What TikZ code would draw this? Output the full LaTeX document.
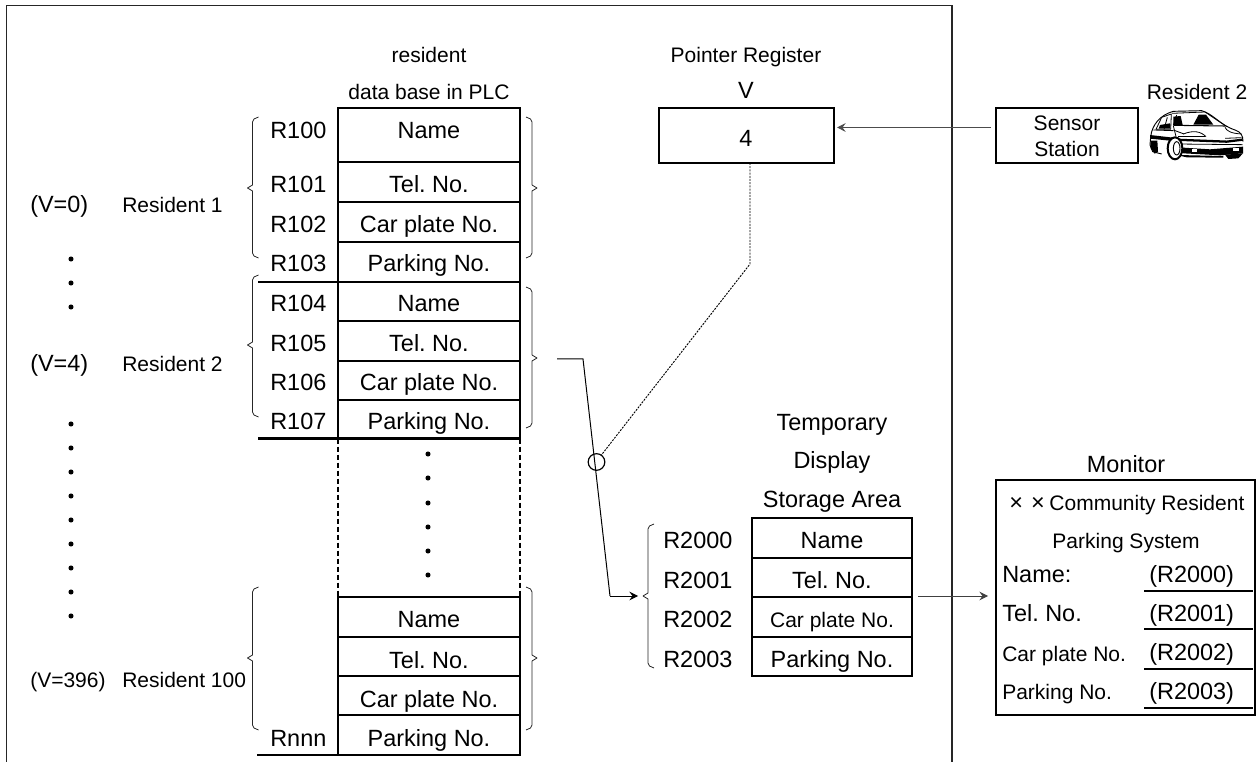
\documentclass[tikz,border=0pt]{standalone}
\usepackage{fontspec}
\setmainfont{Liberation Sans}
\usetikzlibrary{arrows.meta}
\frenchspacing
\newcommand{\cellb}[5]{%
  \pgfmathsetmacro{\cw}{(#4-#2)*0.75}\pgfmathsetmacro{\ch}{(#5-#3)*0.75}%
  \node[cellbox,minimum width=\cw pt,minimum height=\ch pt] (#1) at ({(#2+#4)/2},{(#3+#5)/2}) {};}
\newcommand{\bracket}[5]{% spine x, dir (+1 opens right), top, mid, bottom
  \draw[bracestyle] ({#1+6*#2},#3) -- ({#1+1.5*#2},{#3+2}) -- (#1,{#3+5}) -- (#1,{#4-3}) -- ({#1-5*#2},#4)
    -- (#1,{#4+3}) -- (#1,{#5-5}) -- ({#1+1.5*#2},{#5-2}) -- ({#1+6*#2},#5);}
\tikzset{
  cellbox/.style={draw=black,line width=1.5pt,inner sep=0pt,outer sep=0pt},
  bracestyle/.style={draw=black!85,line width=0.6pt,line join=round},
  big/.style={font=\fontsize{17.6}{20}\selectfont,inner sep=0pt,anchor=base},
  sml/.style={font=\fontsize{15.75}{18}\selectfont,inner sep=0pt,anchor=base},
  bigl/.style={big,anchor=base west},
  smll/.style={sml,anchor=base west},
  dotmark/.style={circle,fill=black,inner sep=0pt,minimum size=3.8pt},
  rule/.style={draw=black,line width=1.5pt},
  wire/.style={draw=black,line width=0.75pt},
  tip/.style={-{Stealth[length=6.5pt,width=6.5pt,inset=2.4pt]}},
  dotline/.style={draw=black,line width=0.7pt,dash pattern=on 1.5pt off 0.9pt},
  datadash/.style={draw=black,line width=2pt,dash pattern=on 3.8pt off 2.2pt}
}
\begin{document}
\begin{tikzpicture}[x=0.75pt,y=-0.75pt]
\useasboundingbox (0,0) rectangle (1259,762);
% frame
\coordinate (fa) at (6.5,762); \coordinate (fb) at (6.5,5.5);
\coordinate (fc) at (952,5.5); \coordinate (fd) at (952,762);
\draw[draw=black!85,line width=1pt] (fa) -- (fb) -- (fc) -- (fd);
% database
\node[sml] (t1) at (429,62.5) {resident};
\node[sml] (t2) at (429,100) {data base in PLC};
\cellb{a1}{338}{108}{520}{162.5}
\cellb{a2}{338}{162.5}{520}{202}
\cellb{a3}{338}{202}{520}{242}
\cellb{a4}{338}{242}{520}{282}
\cellb{b1}{338}{282}{520}{321}
\cellb{b2}{338}{321}{520}{361}
\cellb{b3}{338}{361}{520}{400}
\cellb{b4}{338}{400}{520}{438.5}
\cellb{c1}{338}{597}{520}{637}
\cellb{c2}{338}{637}{520}{676}
\cellb{c3}{338}{676}{520}{715}
\cellb{c4}{338}{715}{520}{755}
\foreach \n/\y/\tx in {a1/139/Name,a2/193/Tel. No.,a3/233/Car plate No.,a4/272/Parking No.,
  b1/312/Name,b2/352/Tel. No.,b3/391/Car plate No.,b4/430/Parking No.,
  c1/627/Name,c2/668/Tel. No.,c3/707/Car plate No.,c4/746/Parking No.}
  {\node[big] (x\n) at (429,\y) {\tx};}
\foreach \n/\y/\tx in {r0/139/R100,r1/193/R101,r2/233/R102,r3/272/R103,r4/312/R104,r5/352/R105,r6/391/R106,r7/430/R107,rn/746/Rnnn}
  {\node[bigl] (\n) at (270,\y) {\tx};}
\coordinate (l1) at (258,282); \coordinate (l2) at (258,438.5); \coordinate (l3) at (257,755);
\draw[rule] (l1) -- (b1.north west);
\draw[rule] (l2) -- (b4.south west);
\draw[rule] (l3) -- (c4.south west);
\draw[datadash] (b4.south west) -- (c1.north west);
\draw[datadash] (b4.south east) -- (c1.north east);
\foreach \y [count=\i] in {454,478,503,527,551,575} {\node[dotmark] (dm\i) at (428,\y) {};}
% braces
\bracket{252.5}{1}{117}{188}{258}
\bracket{252.5}{1}{275}{345}{417}
\bracket{252.5}{1}{587}{658}{730}
\bracket{532}{-1}{117}{188}{258}
\bracket{532}{-1}{287}{358}{428}
\bracket{532}{-1}{587}{658}{730}
\bracket{648}{1}{524}{596}{668}
% left labels
\node[bigl] (v0) at (30,213) {(V=0)};
\node[smll] (n1) at (122,213) {Resident 1};
\node[bigl] (v4) at (30,372) {(V=4)};
\node[smll] (n2) at (122,372) {Resident 2};
\node[smll] (v396) at (30,687) {(V=396)};
\node[smll] (n3) at (122,687) {Resident 100};
\foreach \y [count=\i] in {259,283,307,424,448,472,496,520,544,568,592,616} {\node[dotmark] (dd\i) at (71,\y) {};}
% pointer register
\node[sml] (pr) at (746,62.5) {Pointer Register};
\node[big] (pv) at (746,99) {V};
\cellb{ptr}{659}{108}{834}{163}
\node[big] (pn) at (746,147) {4};
% sensor
\cellb{sens}{996}{108}{1138}{163}
\node[sml] (s1) at (1067,131) {Sensor};
\node[sml] (s2) at (1067,157) {Station};
\node[sml] (res2) at (1197,100) {Resident 2};
\coordinate (sf) at (991,127.5); \coordinate (pf) at (837,127.5);
\draw[wire,draw=black!70,tip] (sf) -- (pf);
% car
\begin{scope}[shift={(960,70)},x=0.25pt,y=-0.25pt,line join=round]
  % body outline
  \draw[line width=0.7pt] (572,200) .. controls (576,165) and (600,135) .. (640,124) -- (725,122) .. controls (760,132) and (780,165) .. (825,180) .. controls (842,186) and (849,195) .. (849,215);
  \draw[line width=0.7pt] (572,200) -- (570,225) -- (578,245) -- (605,252);
  % roof double line, windscreen
  \draw[line width=0.6pt] (636,130) -- (735,126) -- (800,170);
  \fill (640,140) -- (662,138) -- (668,165) -- (640,165) -- cycle;
  \fill (700,164) -- (716,134) -- (738,134) -- (760,164) -- cycle;
  \draw[line width=0.8pt] (640,166) -- (795,168);
  \draw[line width=0.6pt] (650,135) -- (640,165);
  % side windows
  \draw[line width=0.6pt] (588,178) -- (605,142) -- (634,132) -- (632,178) -- cycle;
  \draw[line width=0.6pt] (612,178) -- (622,142);
  \fill (600,165) -- (630,160) -- (630,176) -- (596,176) -- cycle;
  % bonnet lines
  \draw[line width=0.6pt] (670,192) .. controls (700,180) and (722,184) .. (738,200);
  \draw[line width=0.6pt] (640,180) -- (672,192);
  \draw[line width=0.6pt] (795,172) .. controls (800,182) and (810,190) .. (845,192);
  \draw[line width=0.6pt] (640,168) -- (648,200);
  % headlamp rims
  \draw[line width=0.6pt] (655,200) -- (735,200);
  \draw[line width=0.6pt] (795,205) -- (845,203);
  % waist and door
  \fill (570,195) -- (640,203) -- (640,213) -- (570,206) -- cycle;
  \draw[line width=0.6pt] (580,180) -- (640,182);
  % bumper bands
  \draw[line width=1.7pt] (645,209) -- (800,215) -- (848,209);
  \draw[line width=0.6pt] (650,222) -- (848,224);
  \fill (655,232) -- (750,238) -- (849,230) -- (849,250) -- (780,256) -- (670,250) -- cycle;
  \fill[white] (695,238) rectangle (712,246);
  \fill[white] (820,235) rectangle (838,243);
  \fill (650,255) -- (790,258) -- (790,263) -- (680,262) -- cycle;
  \fill (795,254) -- (849,250) -- (835,265) -- (805,267) -- cycle;
  % wheels
  \draw[line width=1.5pt,fill=white] (645,235) ellipse (22 and 33);
  \draw[line width=0.7pt] (650,235) ellipse (10 and 20);
  \fill (572,212) -- (592,212) -- (594,245) -- (584,251) -- (572,235) -- cycle;
\end{scope}
% selector wire
\coordinate (w0) at (557,359); \coordinate (w1) at (583,359);
\coordinate (w2) at (610,596); \coordinate (w3) at (638,596);
\coordinate (q1) at (750,264);
\node[circle,draw=black,line width=0.9pt,inner sep=0pt,minimum size=12.5pt,outer sep=0pt] (sw) at (596.5,462) {};
\draw[wire] (w0) -- (w1) -- (w2);
\draw[wire,tip] (w2) -- (w3);
\draw[dotline] (ptr.south -| q1) -- (q1) -- (sw.55);
% temporary storage
\node[big] (h1) at (832,431) {Temporary};
\node[big] (h2) at (832,469) {Display};
\node[big] (h3) at (832,507) {Storage Area};
\cellb{d1}{752}{518}{912}{558}
\cellb{d2}{752}{558}{912}{597}
\cellb{d3}{752}{597}{912}{636.5}
\cellb{d4}{752}{636.5}{912}{676}
\node[big] (xd1) at (832,548) {Name};
\node[big] (xd2) at (832,588) {Tel. No.};
\node[sml] (xd3) at (832,627) {Car plate No.};
\node[big] (xd4) at (832,667) {Parking No.};
\foreach \n/\y/\tx in {q0/548/R2000,q1t/588/R2001,q2/627/R2002,q3/667/R2003}
  {\node[bigl] (\n) at (663,\y) {\tx};}
% monitor
\coordinate (mf) at (918,596); \coordinate (mt) at (988,596);
\draw[wire,draw=black!75,tip] (mf) -- (mt);
\node[big] (mh) at (1126,472) {Monitor};
\cellb{mon}{996}{480}{1255}{715}
\node[smll] (m1) at (1009,510) {\fontsize{17.6}{20}\selectfont ×\hspace{6.2pt}×\hspace{3.4pt}\fontsize{15.75}{18}\selectfont Community Resident};
\node[sml] (m2) at (1126,548) {Parking System};
\node[bigl] (m3) at (1002,582) {Name:};
\node[bigl] (m4) at (1002,621) {Tel. No.};
\node[smll] (m5) at (1002,661) {Car plate No.};
\node[smll] (m6) at (1002,699) {Parking No.};
\foreach \n/\y/\ly/\tx in {u0/582/591/(R2000),u1/621/629/(R2001),u2/660/669/(R2002),u3/699/708/(R2003)}{
  \node[bigl] (\n) at (1149,\y) {\tx};
  \coordinate (\n a) at (1144,\ly); \coordinate (\n b) at (1253,\ly);
  \draw[rule] (\n a) -- (\n b);
}
\end{tikzpicture}
\end{document}
